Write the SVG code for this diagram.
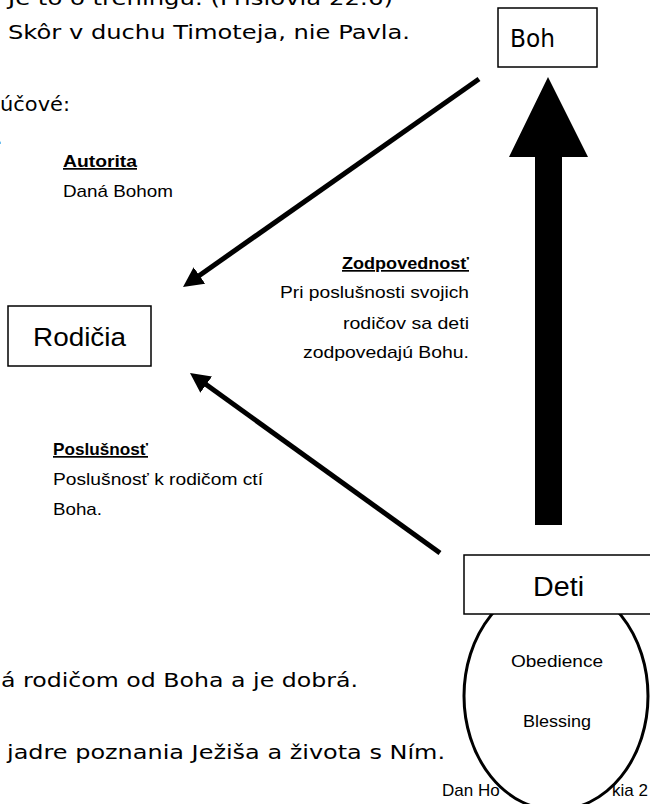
<svg xmlns="http://www.w3.org/2000/svg" width="650" height="804" viewBox="0 0 650 804">
  <style>
    .page { font-family: "DejaVu Sans", "Liberation Sans", sans-serif; font-size: 20px; fill: #000; }
    .lbl { font-family: "Liberation Sans", Arial, sans-serif; font-size: 17px; fill: #000; }
    .lblb { font-family: "Liberation Sans", Arial, sans-serif; font-size: 17px; font-weight: bold; fill: #000; text-decoration: underline; }
    .box { fill: #fff; stroke: #000; stroke-width: 1.5; }
    .conn { stroke: #000; stroke-width: 5; fill: none; }
  </style>
  <defs>
    <marker id="head" markerUnits="userSpaceOnUse" markerWidth="20" markerHeight="20" viewBox="0 0 20 20" refX="10" refY="10" orient="auto">
      <path d="M0,0 L20,10 L0,20 z" fill="#000"/>
    </marker>
  </defs>
  <rect width="650" height="804" fill="#fff"/>

  <!-- page text -->
  <g id="page-text" class="page">
    <text x="8" y="5" textLength="385" lengthAdjust="spacingAndGlyphs">Je to o tréningu. (Príslovia 22:6)</text>
    <text x="8" y="39" textLength="402" lengthAdjust="spacingAndGlyphs">Skôr v duchu Timoteja, nie Pavla.</text>
    <text x="0" y="111" textLength="70" lengthAdjust="spacingAndGlyphs">účové:</text>
    <text x="-4" y="144">.</text>
    <text x="1" y="687" textLength="357" lengthAdjust="spacingAndGlyphs">á rodičom od Boha a je dobrá.</text>
    <text x="7" y="759" textLength="438" lengthAdjust="spacingAndGlyphs">jadre poznania Ježiša a života s Ním.</text>
  </g>

  <!-- labels -->
  <g id="label-autorita">
    <text class="lblb" x="63" y="167" textLength="74" lengthAdjust="spacingAndGlyphs">Autorita</text>
    <text class="lbl" x="63" y="197" textLength="110" lengthAdjust="spacingAndGlyphs">Daná Bohom</text>
  </g>
  <g id="label-zodpovednost">
    <text class="lblb" x="342" y="269" textLength="127" lengthAdjust="spacingAndGlyphs">Zodpovednosť</text>
    <text class="lbl" x="280" y="298" textLength="189" lengthAdjust="spacingAndGlyphs">Pri poslušnosti svojich</text>
    <text class="lbl" x="343" y="329" textLength="126" lengthAdjust="spacingAndGlyphs">rodičov sa deti</text>
    <text class="lbl" x="303" y="358" textLength="166" lengthAdjust="spacingAndGlyphs">zodpovedajú Bohu.</text>
  </g>
  <g id="label-poslusnost">
    <text class="lblb" x="53" y="455" textLength="95" lengthAdjust="spacingAndGlyphs">Poslušnosť</text>
    <text class="lbl" x="53" y="485" textLength="210" lengthAdjust="spacingAndGlyphs">Poslušnosť k rodičom ctí</text>
    <text class="lbl" x="53" y="515" textLength="49" lengthAdjust="spacingAndGlyphs">Boha.</text>
  </g>

  <!-- connectors -->
  <g id="connectors">
    <line class="conn" x1="479" y1="79" x2="191.2" y2="281.2" marker-end="url(#head)"/>
    <line class="conn" x1="440" y1="553" x2="198.1" y2="378.8" marker-end="url(#head)"/>
    <polygon points="548,77 588,157 562,157 562,525 535,525 535,157 509,157" fill="#000"/>
  </g>

  <!-- nodes -->
  <g id="node-boh">
    <rect class="box" x="498" y="8" width="99" height="59"/>
    <text x="510" y="47" font-family="DejaVu Sans, sans-serif" font-size="24" textLength="45" lengthAdjust="spacingAndGlyphs">Boh</text>
  </g>
  <g id="node-rodicia">
    <rect class="box" x="8" y="306" width="143" height="60"/>
    <text x="33" y="346" font-family="Liberation Sans, Arial, sans-serif" font-size="26" textLength="93" lengthAdjust="spacingAndGlyphs">Rodičia</text>
  </g>

  <g id="footer">
    <text class="lbl" x="442" y="796" font-size="18">Dan Ho</text>
    <text class="lbl" x="612" y="796" font-size="18">kia 2</text>
  </g>

  <g id="node-circle">
    <ellipse cx="556" cy="696" rx="92" ry="114" fill="#fff" stroke="#000" stroke-width="3"/>
    <text class="lbl" x="511" y="667" textLength="92" lengthAdjust="spacingAndGlyphs">Obedience</text>
    <text class="lbl" x="523" y="727" textLength="68" lengthAdjust="spacingAndGlyphs">Blessing</text>
  </g>

  <g id="node-deti">
    <rect class="box" x="464" y="555" width="200" height="59"/>
    <text x="533" y="596" font-family="Liberation Sans, Arial, sans-serif" font-size="27" textLength="51" lengthAdjust="spacingAndGlyphs">Deti</text>
  </g>
</svg>
